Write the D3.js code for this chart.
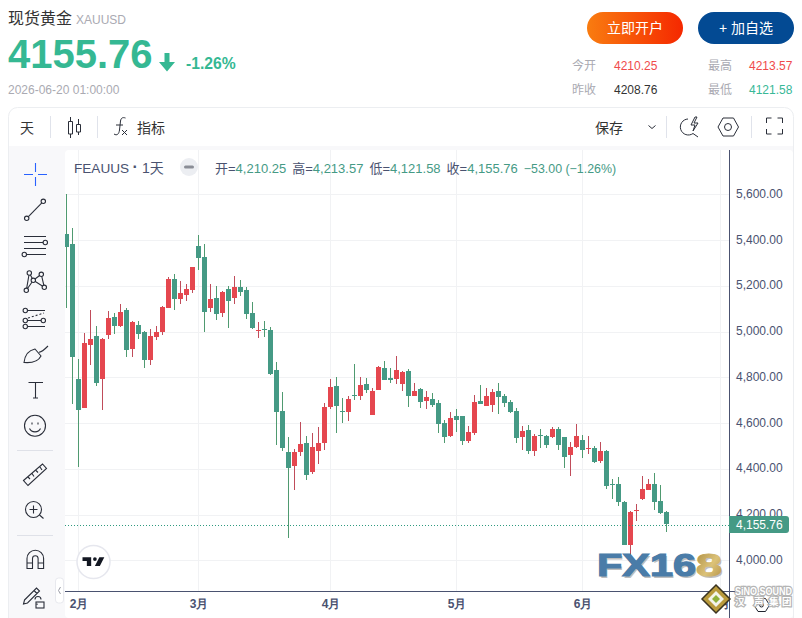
<!DOCTYPE html>
<html>
<head>
<meta charset="utf-8">
<title>XAUUSD</title>
<script src="https://cdn.jsdelivr.net/npm/d3@7"></script>
<style>
html, body { margin: 0; padding: 0; background: #fff; overflow: hidden; }
svg { display: block; font-family: "Liberation Sans", "Noto Sans CJK SC", sans-serif; }
</style>
</head>
<body>
<div id="chart"></div>
<script>
const opens = [5427,5383,4793,4667,4941,4981,4794,4985,5064,5024,
    5094,4924,5029,4998,4876,4976,4998,5103,5230,5142,
    5160,5182,5374,5326,5103,5147,5081,5186,5147,5195,
    5182,5081,5003,5011,5007,4832,4653,4473,4412,4473,
    4513,4386,4478,4513,4670,4762,4653,4648,4723,4718,
    4771,4635,4745,4841,4797,4793,4771,4827,4718,4749,
    4696,4705,4688,4600,4543,4631,4631,4522,4557,4696,
    4674,4679,4740,4718,4692,4653,4539,4570,4478,4548,
    4543,4539,4574,4539,4460,4495,4526,4487,4491,4434,
    4478,4334,4334,4255,4067,4214,4268,4307,4334,4259,4210.25];
const highs = [5600,5453,4880,4992,5094,5024,4972,5090,5081,5121,
    5103,5046,5046,5003,5011,5024,5112,5239,5252,5221,
    5208,5282,5422,5383,5208,5199,5177,5199,5243,5226,
    5195,5129,5042,5046,5020,4867,4736,4539,4487,4605,
    4543,4557,4583,4688,4793,4801,4710,4718,4858,4801,
    4797,4753,4849,4871,4841,4893,4827,4836,4775,4753,
    4740,4731,4701,4613,4648,4661,4631,4587,4723,4766,
    4753,4749,4775,4727,4701,4666,4587,4592,4552,4574,
    4548,4583,4583,4539,4517,4596,4548,4543,4500,4517,
    4482,4356,4364,4259,4216,4246,4369,4356,4382,4329,4213.57];
const lows = [5105,4685,4409,4667,4855,4763,4659,4968,4990,5020,
    4889,4889,4968,4841,4854,4963,4985,5103,5094,5121,
    5134,5169,5269,4998,5086,5051,5064,5016,5121,5156,
    5055,5011,4972,4976,4810,4504,4478,4098,4307,4456,
    4351,4377,4421,4482,4661,4557,4600,4609,4701,4701,
    4731,4635,4745,4788,4775,4771,4740,4670,4718,4666,
    4661,4670,4557,4513,4539,4561,4504,4513,4548,4683,
    4674,4648,4640,4670,4645,4513,4482,4465,4456,4491,
    4491,4535,4482,4404,4369,4491,4447,4465,4425,4425,
    4312,4268,4238,4067,4023,4172,4264,4307,4220,4203,4121.58];
const closes = [5371,4890,4659,4950,4968,4777,4968,5059,5024,5086,
    4920,5042,4990,4876,4981,4998,5108,5230,5142,5169,
    5186,5282,5322,5086,5142,5077,5173,5134,5195,5173,
    5077,5016,5007,5007,4815,4648,4491,4404,4473,4508,
    4373,4495,4513,4670,4758,4675,4648,4705,4718,4766,
    4745,4740,4845,4788,4788,4832,4823,4718,4740,4692,
    4714,4679,4596,4539,4622,4613,4522,4561,4692,4683,
    4718,4736,4714,4688,4648,4535,4565,4478,4543,4543,
    4504,4574,4504,4452,4495,4543,4482,4491,4430,4478,
    4325,4329,4255,4067,4211,4220,4312,4334,4255,4207,4155.76];

const monthLabels = ["2月", "3月", "4月", "5月", "6月", "7月"];
const monthBars = [2, 22, 44, 65, 86, 109];
const priceTicks = [4000, 4200, 4400, 4600, 4800, 5000, 5200, 5400, 5600];
const lastPrice = 4155.76;

const statsLeft = [["今开", "4210.25", "#f04b4b"], ["昨收", "4208.76", "#333333"]];
const statsRight = [["最高", "4213.57", "#f04b4b"], ["最低", "4121.58", "#38b897"]];
const statusItems = [["开", "4,210.25"], ["高", "4,213.57"], ["低", "4,121.58"], ["收", "4,155.76"]];

const green = "#459a85", red = "#e5474f";
const wickGreen = "#4f9a70", wickRed = "#c04c5a";
const axisColor = "#4a5270", gridColor = "#f1f2f4", iconColor = "#2a2e39";

const pane = { left: 65, right: 729, top: 150, bottom: 591 };

const svg = d3.select("#chart").append("svg").attr("width", 802).attr("height", 618);
const defs = svg.append("defs");

function addText(parent, x, y, txt, size, fill, weight, anchor) {
    return parent.append("text").attr("x", x).attr("y", y).text(txt)
        .attr("font-size", size).attr("fill", fill)
        .attr("font-weight", weight || "normal")
        .attr("text-anchor", anchor || "start");
}

/* header */
addText(svg, 8, 24, "现货黄金", 16, "#333333");
addText(svg, 76, 24, "XAUUSD", 12, "#aaaab2");
addText(svg, 8, 68, "4155.76", 40, "#35b893", "bold");
svg.append("path").attr("d", "M164.5 53h5v9h5.5l-8 9.5-8-9.5h5.5z").attr("fill", "#35b893");
addText(svg, 186, 69, "-1.26%", 15.7, "#35b893", "bold");
addText(svg, 8, 94, "2026-06-20 01:00:00", 12, "#aaaab2");

const grad = defs.append("linearGradient").attr("id", "btnGrad");
grad.append("stop").attr("offset", "0%").attr("stop-color", "#f97c10");
grad.append("stop").attr("offset", "100%").attr("stop-color", "#f52800");
svg.append("rect").attr("x", 587).attr("y", 12).attr("width", 96).attr("height", 32).attr("rx", 16).attr("fill", "url(#btnGrad)");
addText(svg, 635, 33, "立即开户", 14, "#fff", "normal", "middle");
svg.append("rect").attr("x", 698).attr("y", 12).attr("width", 96).attr("height", 32).attr("rx", 16).attr("fill", "#034a93");
addText(svg, 746, 33, "+ 加自选", 14, "#fff", "normal", "middle");

statsLeft.forEach((s, i) => {
    addText(svg, 572, 70 + i * 24, s[0], 12, "#aaaab2");
    addText(svg, 614, 70 + i * 24, s[1], 12, s[2]);
});
statsRight.forEach((s, i) => {
    addText(svg, 708, 70 + i * 24, s[0], 12, "#aaaab2");
    addText(svg, 749, 70 + i * 24, s[1], 12, s[2]);
});

/* card */
svg.append("rect").attr("x", 8.5).attr("y", 107.5).attr("width", 785).attr("height", 530).attr("rx", 9)
    .attr("fill", "#fff").attr("stroke", "#eceef1");
svg.append("rect").attr("x", 9).attr("y", 146).attr("width", 784).attr("height", 472).attr("fill", "#f8f8fa");
svg.append("rect").attr("x", pane.left).attr("y", pane.top).attr("width", 728).attr("height", 468).attr("rx", 4).attr("fill", "#fff");

/* toolbar */
addText(svg, 27, 133, "天", 14, "#333333", "normal", "middle");
addText(svg, 137, 133, "指标", 14, "#333333");
addText(svg, 595, 133, "保存", 14, "#333333");
[50.5, 97.5, 666.5, 751.5].forEach(x => {
    svg.append("line").attr("x1", x).attr("x2", x).attr("y1", 116).attr("y2", 138).attr("stroke", "#e0e3eb");
});
const toolbarIcons = svg.append("g").attr("fill", "none").attr("stroke", iconColor).attr("stroke-width", 1);
toolbarIcons.append("path").attr("d", "M70.5 117v4M70.5 134v4M78.5 119v5M78.5 132v3M68.5 121.5h4v12.5h-4zM76.5 124.5h4v7.5h-4z");
toolbarIcons.append("path").attr("d", "M114 134c3 2 5 0 5.5-4l1-9c.5-3 2-4 5-3M116 125h7M122 130l5 5M127 130l-5 5");
toolbarIcons.append("path").attr("d", "M648.5 125.5l3.5 3 3.5-3");
toolbarIcons.append("path").attr("d", "M688 119a8 8 0 1 0 5 14.5l5 3.5M695 117l-4 8h4l-2 6 5-8h-4l3-6z");
toolbarIcons.append("path").attr("d", "M718 127l5-9h10.500l5 9-5 9h-10.500z");
toolbarIcons.append("circle").attr("cx", 728).attr("cy", 127).attr("r", 3.5);
toolbarIcons.append("path").attr("d", "M766.500 123v-5h5M777.500 118h5v5M782.500 129v5h-5M771.500 134h-5v-5");

/* side tool icons */
const tools = svg.append("g").attr("fill", "none").attr("stroke", iconColor).attr("stroke-width", 1.1);
tools.append("path").attr("stroke", "#2962ff").attr("d", "M24 174.500h9M38 174.500h9M35.500 163v9M35.500 177v9");
function dot(x, y) {
    tools.append("circle").attr("cx", x).attr("cy", y).attr("r", 2.2).attr("fill", "#f8f8fa");
}
tools.append("path").attr("d", "M43.300 201.300L26.700 218.300");
dot(43.3, 201.3); dot(26.7, 218.3);
tools.append("path").attr("d", "M24 236.500h22M24 242.500h22M24 248.500h22M24 254.500h22");
dot(45.3, 242.5); dot(24.3, 254.5);
tools.append("path").attr("d", "M29.300 273L33.300 280.300L26.300 290.300L29.300 273M41.300 274.300L33.300 280.300L44.300 287.300L41.300 274.300");
dot(29.3, 273); dot(41.3, 274.3); dot(33.3, 280.3); dot(26.300, 290.3); dot(44.3, 287.3);
tools.append("path").attr("d", "M25 310.500h20M25 320.500h20M25 326.500h20");
tools.append("path").attr("stroke-dasharray", "2 2").attr("d", "M28 318L44 313");
dot(25.3, 310.5); dot(25.3, 320.5); dot(43.3, 320.5); dot(25.3, 326.5);
tools.append("path").attr("d", "M24 362.500C25 354 30 350 35 349L41 356C38 362 30 363 24 362.500ZM39 352C41 353 44 350 48 346");
tools.append("path").attr("d", "M28.500 382.500h14.500M35.500 382.500v15.500M33 398h5");
tools.append("circle").attr("cx", 35).attr("cy", 425.7).attr("r", 10.5);
tools.append("path").attr("d", "M32 422.500v2M38 422.500v2M29.500 428.500c2 4.500 9 4.500 11 0");
tools.append("path").attr("d", "M23.500 480.500L42.500 464l4 4.500L28 485.500zM28 477l2 2M32 473.500l2 3M36 470.500l2 2M40 467l2 3");
tools.append("circle").attr("cx", 33.5).attr("cy", 509.5).attr("r", 8);
tools.append("path").attr("d", "M39.500 515l4 3.500M29.500 509.500h8M33.500 505.500v8");
tools.append("path").attr("d", "M27 568.500v-10a8.300 8.300 0 0 1 16.600 0v10h-5.500v-10a2.800 2.800 0 0 0 -5.600 0v10zM27 563h5.500M38 563h5.500");
tools.append("path").attr("d", "M24.500 600l12-12 3 3-12 12-4 1zM34 590.500l3 3M37 605v-1.500M35 599.500a3 3 0 0 1 6 0");
tools.append("rect").attr("x", 36).attr("y", 602).attr("width", 8).attr("height", 6);
[450.5, 535.5].forEach(y => {
    svg.append("line").attr("x1", 17).attr("x2", 53).attr("y1", y).attr("y2", y).attr("stroke", "#dfe1e8");
});

/* scales */
const xScale = d3.scaleLinear().domain([0, 100]).range([66.5, 666.5]);
const yScale = d3.scaleLinear().domain([4000, 5600]).range([560.3, 194.3]);

defs.append("clipPath").attr("id", "paneClip").append("rect")
    .attr("x", pane.left).attr("y", pane.top)
    .attr("width", pane.right - pane.left).attr("height", pane.bottom - pane.top);
defs.append("clipPath").attr("id", "timeClip").append("rect")
    .attr("x", pane.left).attr("y", pane.bottom)
    .attr("width", pane.right - pane.left).attr("height", 30);

/* grid */
const grid = svg.append("g").attr("clip-path", "url(#paneClip)").attr("stroke", gridColor).attr("shape-rendering", "crispEdges");
grid.selectAll(".h").data(priceTicks).join("line")
    .attr("x1", pane.left).attr("x2", pane.right)
    .attr("y1", d => Math.round(yScale(d)) + 0.5).attr("y2", d => Math.round(yScale(d)) + 0.5);
grid.selectAll(".v").data(monthBars).join("line")
    .attr("x1", d => xScale(d)).attr("x2", d => xScale(d))
    .attr("y1", pane.top).attr("y2", pane.bottom);

/* status line */
addText(svg, 74, 173, "FEAUUS", 13.6, axisColor);
addText(svg, 132.5, 172, "·", 16, axisColor, "bold");
addText(svg, 142, 173, "1天", 14, axisColor);
svg.append("circle").attr("cx", 189).attr("cy", 167).attr("r", 9).attr("fill", "#eceef2");
svg.append("rect").attr("x", 184).attr("y", 165.5).attr("width", 10).attr("height", 3).attr("rx", 1.5).attr("fill", "#8a8d96");

const status = svg.append("text").attr("x", 215).attr("y", 173).attr("font-size", 13);
statusItems.forEach((d, i) => {
    status.append("tspan").attr("dx", i ? 6 : 0).attr("fill", axisColor).text(d[0] + "=");
    status.append("tspan").attr("fill", green).text(d[1]);
});
status.append("tspan").attr("dx", 6).attr("fill", green).attr("font-size", 12.4).text("−53.00 (−1.26%)");

/* candles */
const bars = svg.append("g").attr("clip-path", "url(#paneClip)").attr("shape-rendering", "crispEdges");
const candles = bars.selectAll("g").data(d3.range(opens.length)).join("g");
candles.append("line")
    .attr("x1", i => xScale(i)).attr("x2", i => xScale(i))
    .attr("y1", i => yScale(highs[i])).attr("y2", i => yScale(lows[i]))
    .attr("stroke", i => closes[i] >= opens[i] ? wickRed : wickGreen);
candles.append("rect")
    .attr("x", i => xScale(i) - 2.5).attr("width", 5)
    .attr("y", i => Math.round(yScale(Math.max(opens[i], closes[i]))))
    .attr("height", i => Math.max(1, Math.round(yScale(Math.min(opens[i], closes[i])) - yScale(Math.max(opens[i], closes[i])))))
    .attr("fill", i => closes[i] >= opens[i] ? red : green);

/* last price line */
svg.append("line").attr("x1", pane.left).attr("x2", pane.right)
    .attr("y1", Math.round(yScale(lastPrice)) + 0.5).attr("y2", Math.round(yScale(lastPrice)) + 0.5)
    .attr("stroke", "#2f9a7f").attr("stroke-dasharray", "1 2");

/* axes */
const yAxis = svg.append("g").attr("transform", `translate(${pane.right}, 0)`)
    .call(d3.axisRight(yScale).tickValues(priceTicks).tickSize(0).tickPadding(7).tickFormat(d3.format(",.2f")));
yAxis.select(".domain").remove();
yAxis.selectAll("text").attr("font-size", 12).attr("font-family", null).attr("fill", axisColor).attr("dy", "0.25em");

const timeWrap = svg.append("g").attr("clip-path", "url(#timeClip)");
const timeAxis = timeWrap.append("g").attr("transform", `translate(0, ${pane.bottom})`)
    .call(d3.axisBottom(xScale).tickValues(monthBars).tickSize(0).tickPadding(8).tickFormat((d, i) => monthLabels[i]));
timeAxis.select(".domain").remove();
timeAxis.selectAll("text").attr("font-size", 12).attr("font-family", null).attr("font-weight", "bold").attr("fill", axisColor);

svg.append("line").attr("x1", pane.right + 0.5).attr("x2", pane.right + 0.5).attr("y1", pane.top).attr("y2", 618).attr("stroke", axisColor);
svg.append("line").attr("x1", pane.left).attr("x2", 735).attr("y1", pane.bottom + 0.5).attr("y2", pane.bottom + 0.5).attr("stroke", axisColor);

/* price label */
svg.append("path").attr("d", "M729 516h57a3 3 0 0 1 3 3v11a3 3 0 0 1 -3 3h-57z").attr("fill", green);
addText(svg, 736, 529, "4,155.76", 12, "#fff");

/* tv logo */
svg.append("circle").attr("cx", 93.5).attr("cy", 562).attr("r", 16.5).attr("fill", "#fff").attr("stroke", "#e6e7ee").attr("stroke-width", 1.5);
const tvLogo = svg.append("g").attr("transform", "translate(82.5, 553.5) scale(0.62)").attr("fill", "#131722");
tvLogo.append("path").attr("d", "M14 6H0v6h7v8h7V6ZM28 20h-8l7.200-14h8L28 20Z");
tvLogo.append("circle").attr("cx", 20).attr("cy", 9).attr("r", 3);

/* collapse handle */
svg.append("rect").attr("x", 55.5).attr("y", 578).attr("width", 8).attr("height", 25).attr("rx", 3).attr("fill", "#fff").attr("stroke", "#e8e9ee");
svg.append("path").attr("d", "M60.500 587l-2 3.500 2 3.500").attr("fill", "none").attr("stroke", "#9a9ca6");

/* watermarks */
const goldGrad = defs.append("linearGradient").attr("id", "goldGrad").attr("x1", 0).attr("y1", 0).attr("x2", 1).attr("y2", 1);
goldGrad.append("stop").attr("offset", "0%").attr("stop-color", "#a8893e");
goldGrad.append("stop").attr("offset", "55%").attr("stop-color", "#dcc278");
goldGrad.append("stop").attr("offset", "100%").attr("stop-color", "#b08c40");

function wide(x, txt, w, fill) {
    addText(svg, x + 1.5, 577.5, txt, 32, "#8a8a8a", "bold").attr("textLength", w).attr("lengthAdjust", "spacingAndGlyphs").attr("opacity", 0.55);
    addText(svg, x, 576, txt, 32, fill, "bold").attr("textLength", w).attr("lengthAdjust", "spacingAndGlyphs")
        .attr("stroke", fill).attr("stroke-width", 1.2);
}
wide(597, "FX16", 99, "#4a7ca8");
wide(696, "8", 26, "url(#goldGrad)");

const hexIcon = svg.append("g").attr("fill", "none").attr("stroke", "#20242e");
hexIcon.append("path").attr("d", "M754 605l4-6.500h7.500l4 6.500-4 6.500h-7.500z");
hexIcon.append("circle").attr("cx", 761.5).attr("cy", 605).attr("r", 2);

svg.append("path").attr("d", "M716 585l14 14-14 14-14-14z").attr("fill", "#b99a3c").attr("stroke", "#3a3320").attr("stroke-width", 1.5);
svg.append("path").attr("d", "M716 591l8 8-8 8-8-8z").attr("fill", "#f4f4ea");
svg.append("path").attr("d", "M716 595l4 4-4 4-4-4z").attr("fill", "#8fb13c");

const sino = svg.append("g").attr("stroke", "#b5b5b5").attr("stroke-width", 2.5).attr("paint-order", "stroke");
addText(sino, 735, 595, "SiNO SOUND", 10, "#fff", "bold").attr("textLength", 57).attr("lengthAdjust", "spacingAndGlyphs");
addText(sino, 735, 605, "汉", 9.5, "#fff", "bold");
addText(sino, 754, 605, "声", 9.5, "#fff", "bold");
addText(sino, 769, 605, "集", 9.5, "#fff", "bold");
addText(sino, 782, 605, "团", 9.5, "#fff", "bold");
</script>
</body>
</html>
